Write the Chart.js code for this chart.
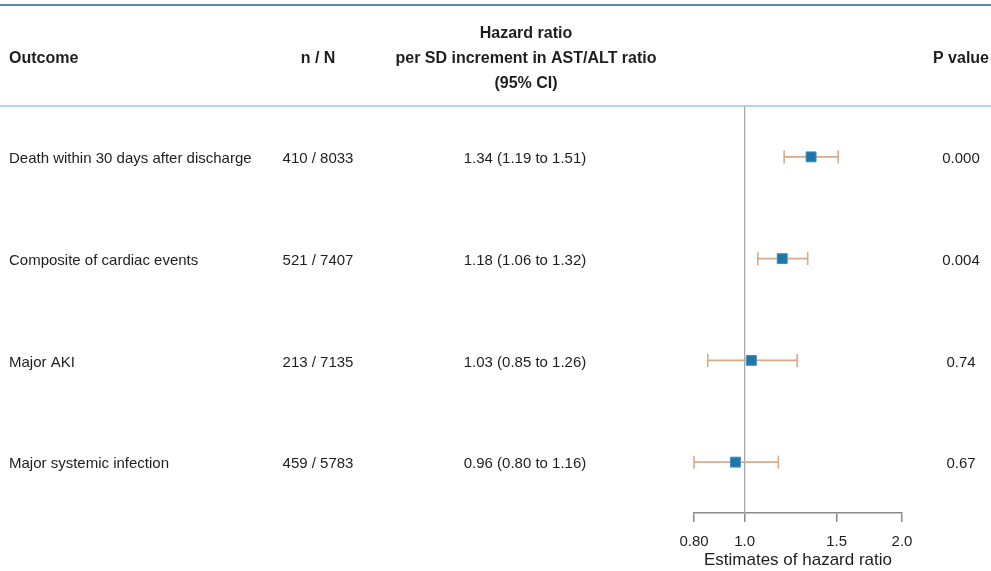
<!DOCTYPE html>
<html>
<head>
<meta charset="utf-8">
<script src="https://cdn.jsdelivr.net/npm/chart.js@4/dist/chart.umd.min.js"></script>
<style>
  html, body { margin: 0; padding: 0; background: #ffffff; }
  #wrap { width: 991px; height: 571px; position: relative; }
</style>
</head>
<body>
<div id="wrap"><canvas id="forest"></canvas></div>
<script>
// Outcomes and their estimates (hazard ratio per SD increment in AST/ALT ratio)
const outcomes = [
  'Death within 30 days after discharge',
  'Composite of cardiac events',
  'Major AKI',
  'Major systemic infection'
];
const eventCounts = [410, 521, 213, 459];
const totals = [8033, 7407, 7135, 5783];
const hazardRatios = [1.34, 1.18, 1.03, 0.96];
const ciLower = [1.19, 1.06, 0.85, 0.80];
const ciUpper = [1.51, 1.32, 1.26, 1.16];
const pValues = ['0.000', '0.004', '0.74', '0.67'];
const tickValues = [0.8, 1.0, 1.5, 2.0];
const tickLabels = ['0.80', '1.0', '1.5', '2.0'];

const FONT = "'Liberation Sans', Arial, Helvetica, sans-serif";
const TEXT = '#1e1e1e';
const rowIndex = outcomes.map((_, i) => i + 1);

// One line per confidence interval, with vertical caps at both ends
const ciDatasets = outcomes.map((_, i) => ({
  type: 'line',
  data: [{ x: ciLower[i], y: rowIndex[i] }, { x: ciUpper[i], y: rowIndex[i] }],
  borderColor: '#d6aa8b',
  borderWidth: 1.6,
  pointStyle: 'line',
  rotation: 90,
  pointRadius: 6.5,
  pointBorderColor: '#d6aa8b',
  pointBorderWidth: 1.6,
  clip: false,
  order: 2
}));

const datasets = [
  {
    type: 'scatter',
    data: hazardRatios.map((v, i) => ({ x: v, y: rowIndex[i] })),
    pointStyle: 'rect',
    pointRadius: 7,
    backgroundColor: '#1f77a9',
    borderColor: '#3f8fbf',
    borderWidth: 1,
    clip: false,
    order: 1
  },
  ...ciDatasets,
  {
    // line of no effect
    type: 'line',
    data: [{ x: 1, y: 0.5 }, { x: 1, y: outcomes.length + 0.5 }],
    borderColor: '#a3a3a3',
    borderWidth: 1.2,
    pointRadius: 0,
    clip: false,
    order: 3
  }
];

// Table text and horizontal rules around the plot
const tablePlugin = {
  id: 'forestTable',
  afterDraw(chart) {
    const ctx = chart.ctx;
    const w = chart.width;
    const yScale = chart.scales.y;
    const dy = 2; // optical centring of text on its row
    ctx.save();

    // rules
    ctx.strokeStyle = '#4b8dbd';
    ctx.lineWidth = 2;
    ctx.beginPath(); ctx.moveTo(0, 5); ctx.lineTo(w, 5); ctx.stroke();
    ctx.strokeStyle = '#9cc9e2';
    ctx.lineWidth = 1.5;
    ctx.beginPath(); ctx.moveTo(0, chart.chartArea.top); ctx.lineTo(w, chart.chartArea.top); ctx.stroke();

    // header
    ctx.fillStyle = TEXT;
    ctx.textBaseline = 'middle';
    ctx.font = 'bold 16px ' + FONT;
    ctx.textAlign = 'left';
    ctx.fillText('Outcome', 9, 57 + dy);
    ctx.textAlign = 'center';
    ctx.fillText('n / N', 318, 57 + dy);
    ctx.fillText('Hazard ratio', 526, 32 + dy);
    ctx.fillText('per SD increment in AST/ALT ratio', 526, 57 + dy);
    ctx.fillText('(95% CI)', 526, 82 + dy);
    ctx.fillText('P value', 961, 57 + dy);

    // rows
    ctx.font = '15px ' + FONT;
    outcomes.forEach((name, i) => {
      const y = yScale.getPixelForValue(rowIndex[i]) + dy;
      ctx.textAlign = 'left';
      ctx.fillText(name, 9, y);
      ctx.textAlign = 'center';
      ctx.fillText(eventCounts[i] + ' / ' + totals[i], 318, y);
      ctx.fillText(hazardRatios[i].toFixed(2) + ' (' + ciLower[i].toFixed(2) + ' to ' + ciUpper[i].toFixed(2) + ')', 525, y);
      ctx.fillText(pValues[i], 961, y);
    });
    ctx.restore();
  }
};

new Chart(document.getElementById('forest'), {
  data: { datasets },
  options: {
    responsive: true,
    maintainAspectRatio: false,
    animation: false,
    layout: { padding: { left: 694, right: 89, top: 106, bottom: 0 } },
    plugins: { legend: { display: false }, tooltip: { enabled: false } },
    scales: {
      x: {
        type: 'logarithmic',
        min: 0.8,
        max: 2.0,
        afterBuildTicks(scale) { scale.ticks = tickValues.map(v => ({ value: v })); },
        afterFit(scale) { scale.height = 58; },
        ticks: {
          autoSkip: false,
          maxRotation: 0,
          padding: 11,
          color: TEXT,
          font: { family: FONT, size: 15 },
          callback: (v, i) => tickLabels[i]
        },
        grid: { drawOnChartArea: false, drawTicks: true, tickLength: 9, color: '#8a8a8a', lineWidth: 1.5 },
        border: { display: true, color: '#8a8a8a', width: 1.5 },
        title: {
          display: true,
          text: 'Estimates of hazard ratio',
          color: TEXT,
          font: { family: FONT, size: 17 },
          padding: { top: 0, bottom: 0 }
        }
      },
      y: {
        type: 'linear',
        reverse: true,
        min: 0.5,
        max: outcomes.length + 0.5,
        display: false
      }
    }
  },
  plugins: [tablePlugin]
});
</script>
</body>
</html>
